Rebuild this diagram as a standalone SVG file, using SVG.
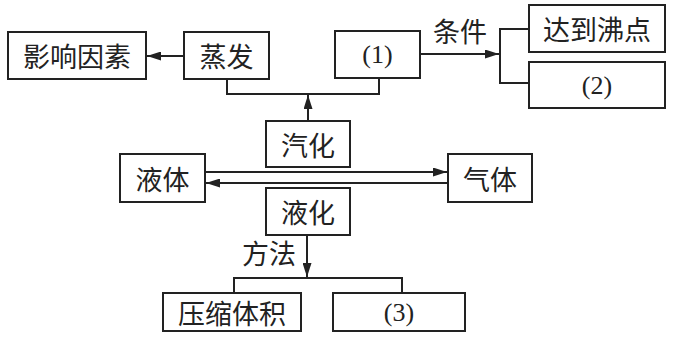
<svg xmlns="http://www.w3.org/2000/svg" width="673" height="345" viewBox="0 0 673 345">
<style>
.box{fill:#fff;stroke:#222;stroke-width:2}
.cn{font-family:"Noto Sans CJK SC","Noto Sans CJK JP",sans-serif;font-size:27px;fill:#222;text-anchor:middle;dominant-baseline:central}
.num{font-family:"Liberation Serif",serif;font-size:26px;fill:#222;text-anchor:middle;dominant-baseline:central}
.ln{fill:none;stroke:#222;stroke-width:2}
</style>
<defs>
<marker id="ah" viewBox="0 0 14 9" refX="14" refY="4.5" markerWidth="14" markerHeight="9" markerUnits="userSpaceOnUse" orient="auto">
<path d="M0,0 L14,4.5 L0,9 Z" fill="#222"/>
</marker>
</defs>
<rect width="673" height="345" fill="#fff"/>
<g id="connectors">
<line class="ln" x1="184" y1="56" x2="147" y2="56" marker-end="url(#ah)"/>
<polyline class="ln" points="227,79 227,94 379,94 379,78"/>
<line class="ln" x1="308" y1="121" x2="308" y2="95" marker-end="url(#ah)"/>
<line class="ln" x1="420" y1="54" x2="499" y2="54" marker-end="url(#ah)"/>
<polyline class="ln" points="529,29 500,29 500,83 529,83"/>
<line class="ln" x1="205" y1="172" x2="447" y2="172" marker-end="url(#ah)"/>
<line class="ln" x1="448" y1="183" x2="206" y2="183" marker-end="url(#ah)"/>
<line class="ln" x1="307" y1="235" x2="307" y2="277" marker-end="url(#ah)"/>
<polyline class="ln" points="234,293 234,278 402,278 402,293"/>
<text class="cn" x="460" y="30">条件</text>
<text class="cn" x="269" y="252">方法</text>
</g>
<g id="n-factors"><rect class="box" x="8" y="32" width="138" height="47"/><text class="cn" x="77" y="55.5">影响因素</text></g>
<g id="n-evap"><rect class="box" x="184" y="32" width="85" height="47"/><text class="cn" x="226.5" y="55.5">蒸发</text></g>
<g id="n-1"><rect class="box" x="335" y="31" width="85" height="47"/><text class="num" x="377.5" y="54.5">(1)</text></g>
<g id="n-boil"><rect class="box" x="529" y="5" width="136" height="47"/><text class="cn" x="597" y="28.5">达到沸点</text></g>
<g id="n-2"><rect class="box" x="529" y="62" width="136" height="46"/><text class="num" x="597" y="85">(2)</text></g>
<g id="n-vapor"><rect class="box" x="266" y="121" width="84" height="46"/><text class="cn" x="308" y="144">汽化</text></g>
<g id="n-liquid"><rect class="box" x="120" y="154" width="85" height="48"/><text class="cn" x="162.5" y="178">液体</text></g>
<g id="n-gas"><rect class="box" x="448" y="154" width="84" height="48"/><text class="cn" x="490" y="178">气体</text></g>
<g id="n-liquefy"><rect class="box" x="266" y="188" width="84" height="47"/><text class="cn" x="308" y="211.5">液化</text></g>
<g id="n-compress"><rect class="box" x="163" y="293" width="138" height="38"/><text class="cn" x="232" y="312">压缩体积</text></g>
<g id="n-3"><rect class="box" x="333" y="293" width="132" height="38"/><text class="num" x="399" y="312">(3)</text></g>
</svg>
